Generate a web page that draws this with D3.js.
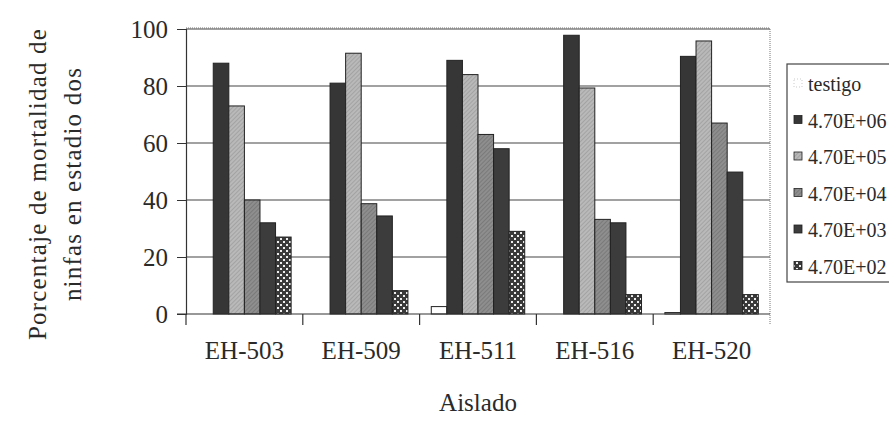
<!DOCTYPE html>
<html><head><meta charset="utf-8">
<script src="https://cdn.jsdelivr.net/npm/d3@7"></script>
<style>body{margin:0;background:#fff}svg{display:block}text{font-family:"Liberation Serif","Times New Roman",serif;fill:#2a2a2a}</style>
</head><body><svg id="c" width="889" height="428"></svg>
<script>
const categories = ["EH-503","EH-509","EH-511","EH-516","EH-520"];
const seriesNames = ["testigo","4.70E+06","4.70E+05","4.70E+04","4.70E+03","4.70E+02"];
const testigo = [0, 0, 2.6, 0, 0.5];
const s470E06 = [88, 81, 89, 97.8, 90.4];
const s470E05 = [73, 91.5, 84, 79.3, 95.8];
const s470E04 = [40, 38.7, 63, 33.2, 67];
const s470E03 = [32, 34.4, 58, 32, 49.8];
const s470E02 = [27, 8.2, 29, 6.8, 6.8];
const yTicks = [0, 20, 40, 60, 80, 100];
const allSeries = [testigo, s470E06, s470E05, s470E04, s470E03, s470E02];

const svg = d3.select("#c");
const defs = svg.append("defs");
function hatch(id, bg, line){
  const p = defs.append("pattern").attr("id", id).attr("patternUnits","userSpaceOnUse")
    .attr("width",3).attr("height",3).attr("patternTransform","rotate(45)");
  p.append("rect").attr("width",3).attr("height",3).attr("fill",bg);
  p.append("line").attr("x1",0).attr("y1",0).attr("x2",0).attr("y2",3).attr("stroke",line).attr("stroke-width",1);
}
hatch("hl","#b9b9b9","#8e8e8e");
hatch("hm","#8e8e8e","#666");
const pd = defs.append("pattern").attr("id","dots").attr("patternUnits","userSpaceOnUse").attr("width",6).attr("height",6);
pd.append("rect").attr("width",6).attr("height",6).attr("fill","#3a3a3a");
pd.append("rect").attr("x",1).attr("y",1).attr("width",2).attr("height",2).attr("fill","#eee");
pd.append("rect").attr("x",4).attr("y",4).attr("width",2).attr("height",2).attr("fill","#eee");
const fills = ["#ffffff","#363636","url(#hl)","url(#hm)","#3c3c3c","url(#dots)"];

const pL = 186, pR = 770, pT = 29, pB = 314;
const x0 = d3.scaleBand().domain(categories).range([pL, pR]).paddingInner(0.2).paddingOuter(0.1);
const x1 = d3.scaleBand().domain(d3.range(seriesNames.length)).range([0, x0.bandwidth()]);
const y = d3.scaleLinear().domain([0, 100]).range([pB, pT]);

// gridlines
svg.append("g").selectAll("line").data(yTicks.filter(d => d > 0)).join("line")
  .attr("x1", pL).attr("x2", pR).attr("y1", d => y(d)).attr("y2", d => y(d))
  .attr("stroke", "#444").attr("stroke-width", 1.2);
// dotted border
svg.append("line").attr("x1", pL).attr("x2", pR).attr("y1", pT-1).attr("y2", pT-1)
  .attr("stroke","#777").attr("stroke-dasharray","1,1");
svg.append("line").attr("x1", pR).attr("x2", pR).attr("y1", pT).attr("y2", pB+10)
  .attr("stroke","#777").attr("stroke-dasharray","1,1");

// bars
const g = svg.append("g");
categories.forEach((c, ci) => {
  allSeries.forEach((s, si) => {
    g.append("rect")
      .attr("x", x0(c) + x1(si)).attr("width", x1.bandwidth())
      .attr("y", y(s[ci])).attr("height", y(0) - y(s[ci]))
      .attr("fill", fills[si]).attr("stroke", "#222").attr("stroke-width", 1);
  });
});

// y axis
const ya = svg.append("g").attr("transform", `translate(${pL},0)`)
  .call(d3.axisLeft(y).tickValues(yTicks).tickSize(9).tickPadding(9));
ya.select(".domain").attr("stroke","#333").attr("stroke-width",1.2);
ya.selectAll(".tick line").attr("stroke","#333");
ya.selectAll("text").attr("font-size", 25).attr("font-family", '"Liberation Serif",serif').attr("fill","#2a2a2a");

// x axis
svg.append("line").attr("x1", pL - 9).attr("x2", pR).attr("y1", pB).attr("y2", pB)
  .attr("stroke","#333").attr("stroke-width",1.2);
const bounds = categories.map(c => x0(c) - x0.step() * x0.paddingOuter());
svg.append("g").selectAll("line").data(bounds).join("line")
  .attr("x1", d => d).attr("x2", d => d).attr("y1", pB).attr("y2", pB + 11)
  .attr("stroke","#333").attr("stroke-width",1.2);
svg.append("g").selectAll("text").data(categories).join("text")
  .attr("x", d => x0(d) + x0.bandwidth() / 2).attr("y", 359)
  .attr("text-anchor","middle").attr("font-size", 25).text(d => d);

svg.append("text").attr("x", 478).attr("y", 411).attr("text-anchor","middle")
  .attr("font-size", 25).text("Aislado");

// y title
const yt = svg.append("text").attr("transform","translate(0,184) rotate(-90)").attr("text-anchor","middle")
  .attr("font-size", 25).attr("letter-spacing", 1.2);
yt.append("tspan").attr("x",0).attr("y",46).text("Porcentaje de mortalidad de");
yt.append("tspan").attr("x",0).attr("y",81).text("ninfas en estadio dos");

// legend
svg.append("rect").attr("x", 787).attr("y", 64).attr("width", 110).attr("height", 218)
  .attr("fill","#fff").attr("stroke","#444").attr("stroke-width",1.2);
const lg = svg.append("g");
seriesNames.forEach((n, i) => {
  const by = 91 + i * 36.5;
  lg.append("rect").attr("x", 794).attr("y", by - 12).attr("width", 8).attr("height", 8)
    .attr("fill", fills[i]).attr("stroke", i === 0 ? "#aaa" : "#222").attr("stroke-width", i === 0 ? 0.6 : 0.8)
    .attr("stroke-dasharray", i === 0 ? "1,2" : null);
  lg.append("text").attr("x", 808).attr("y", by).attr("font-size", 20).text(n);
});
</script></body></html>
